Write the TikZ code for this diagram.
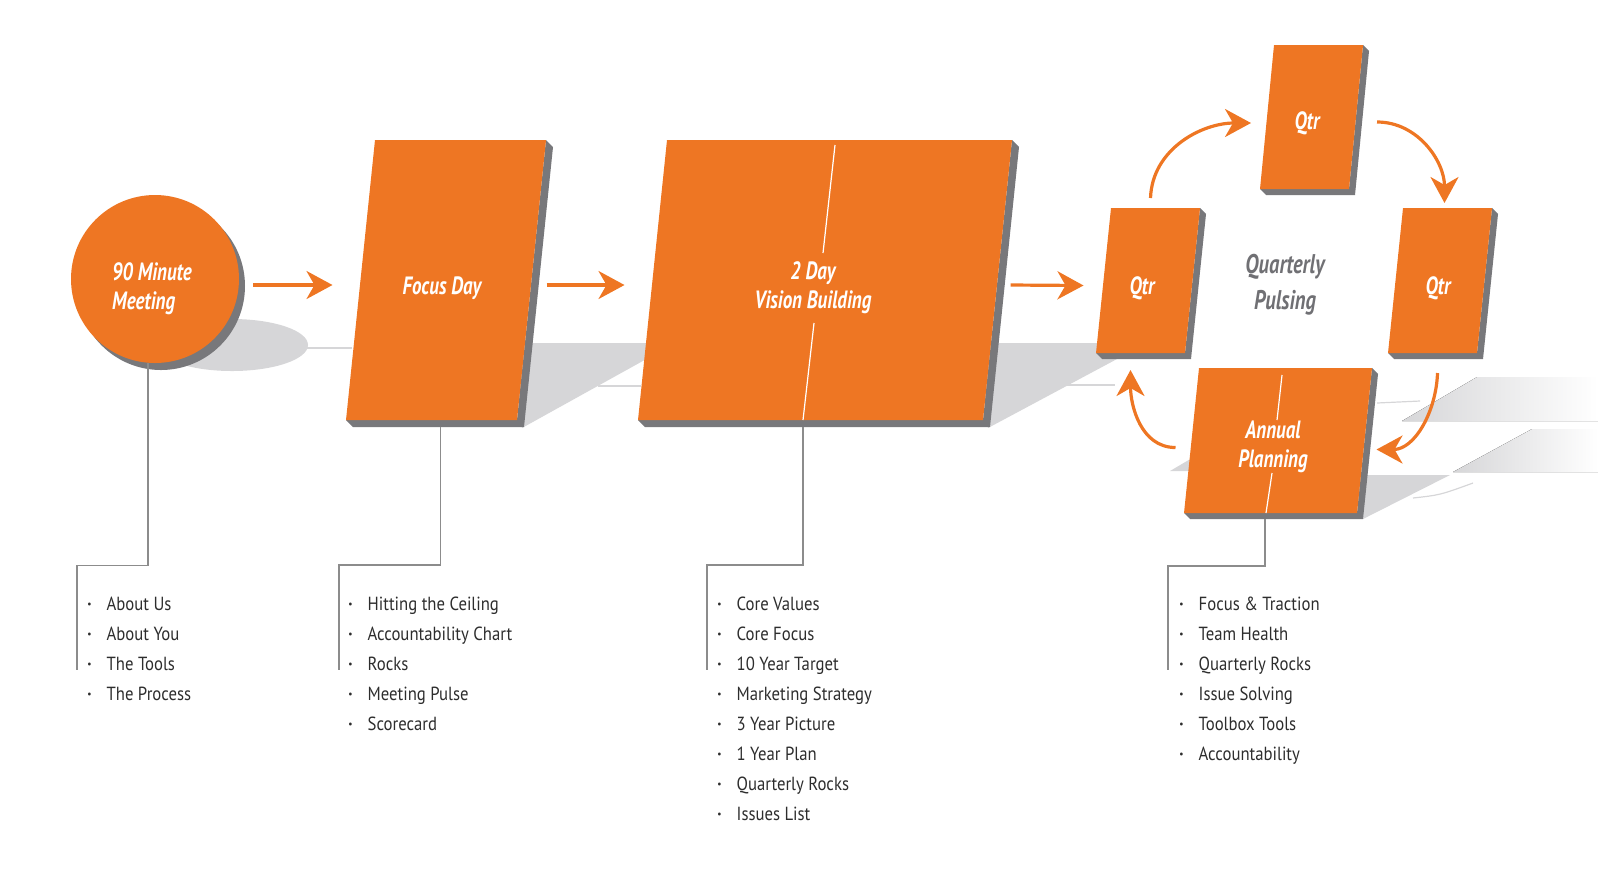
\documentclass[tikz,border=0pt]{standalone}
\usepackage{fontspec}
\newfontfamily\headfont[FakeStretch=0.76]{PT Sans}
\newfontfamily\listfont[FakeStretch=0.88]{PT Sans}
\usetikzlibrary{arrows.meta,calc,positioning}
\definecolor{eosorange}{RGB}{238,118,35}
\definecolor{sidegray}{RGB}{120,120,123}
\definecolor{floorgray}{RGB}{214,214,216}
\definecolor{leadgray}{RGB}{140,140,140}
\definecolor{itemgray}{RGB}{45,45,45}
\definecolor{pulsegray}{RGB}{112,112,116}
\tikzset{
    face/.style={
    fill=eosorange
    },
    side/.style={
    fill=sidegray
    },
    floor/.style={
    fill=floorgray
    },
    reflex/.style={
    draw=floorgray,line width=0.6pt
    },
    flow/.style={
    draw=eosorange,line width=1.6pt,-{Stealth[length=13pt,width=14pt,inset=4pt]}
    },
    lead/.style={
    draw=leadgray,line width=0.6pt
    },
    cut/.style={
    draw=white,line width=0.6pt
    },
    stage/.style={
    text=white,align=center,font=\headfont\bfseries\itshape\fontsize{12.5}{14.5}\selectfont
    },
    pulse/.style={
    text=pulsegray,align=center,font=\headfont\bfseries\itshape\fontsize{13.5}{18}\selectfont
    },
    items/.style={
    text=itemgray,align=left,anchor=north west,inner sep=0pt,font=\listfont\fontsize{9.5}{15}\selectfont
    },
}
% slab: name, bottom-left x, bottom y, width, height, lean, depth
\newcommand{\slab}[7]{%
  \fill[side] (#2+#4+#6,#3-#5) -- ++(#7,#7) -- (#2+#4+#7,#3+#7) -- (#2+#7,#3+#7) -- (#2,#3) -- (#2+#4,#3) -- cycle;
  \fill[face] (#2,#3) -- (#2+#4,#3) -- (#2+#4+#6,#3-#5) -- (#2+#6,#3-#5) -- cycle;
  \coordinate (#1-n) at (#2+#4/2+#6,#3-#5);
  \coordinate (#1-s) at (#2+#4/2,#3);
  \coordinate (#1-w) at (#2+#6/2,#3-#5/2);
  \coordinate (#1-e) at (#2+#4+#6/2+#7,#3-#5/2);
}
\newcommand{\itm}[1]{\textbf{\textperiodcentered}\hspace{7.5pt}#1}

\begin{document}
\begin{tikzpicture}[x=0.5pt,y=-0.5pt]
  \useasboundingbox (0,0) rectangle (1598,875);

  % floor shadows
  \fill[floor] (232,345) ellipse [x radius=76,y radius=26];
  \fill[floor] (515,343) -- (650,343) -- (650,357) -- (522,428) -- cycle;
  \fill[floor] (980,343) -- (1110,343) -- (1117,359) -- (988,428) -- cycle;
  \fill[floor] (1350,475) -- (1450,475) -- (1363,519) -- cycle;
  \fill[floor] (1170,471) -- (1192,458) -- (1192,471) -- cycle;
  \fill[left color=floorgray,right color=white] (1402,421) -- (1477,377) -- (1598,377) -- (1598,421) -- cycle;
  \fill[left color=floorgray,right color=white] (1453,472) -- (1532,429) -- (1598,429) -- (1598,472) -- cycle;
  \draw[reflex] (305,348) -- (352,348);
  \draw[reflex] (598,386) -- (641,386);
  \draw[reflex] (1065,385) -- (1115,385);
  \draw[reflex] (1377,403) -- (1420,401);
  \draw[reflex] (1413,498) .. controls (1440,495) .. (1473,483);

  % stages
  \fill[side] (161,286) circle [radius=84];
  \node[circle,fill=eosorange,minimum size=84pt,inner sep=0pt] (meet) at (155,279) {};
  \slab{focus}{346}{420}{171}{280}{29}{7}
  \slab{vision}{638}{420}{345}{280}{29}{7}
  \slab{qa}{1096}{353}{89}{145}{15}{6}
  \slab{qb}{1260}{189}{89}{144}{14}{6}
  \slab{qc}{1388}{353}{89}{145}{15}{6}
  \slab{ann}{1184}{513}{173}{145}{15}{6}

  \draw[cut] (835,145) -- (823,253) (814,323) -- (803,420);
  \draw[cut] (1282,375) -- (1277,420) (1272,473) -- (1266,513);

  \node[stage,align=left] (meet-txt) at (152,289) {90 Minute\\Meeting};
  \node[stage] (focus) at (442,288) {Focus Day};
  \node[stage] (vision) at (813,288) {2 Day\\Vision Building};
  \node[stage] (qa-txt) at (1142,288) {Qtr};
  \node[stage] (qb-txt) at (1307,123) {Qtr};
  \node[stage] (qc-txt) at (1438,288) {Qtr};
  \node[stage] (ann-txt) at (1273,447) {Annual\\Planning};
  \node[pulse] (pulse) at (1285,285) {Quarterly\\Pulsing};

  % flow
  \draw[flow] ($(meet.east)+(14,6)$) -- ($(focus-w)+(-28,5)$);
  \draw[flow] ($(focus-e)+(8,5)$) -- ($(vision-w)+(-28,5)$);
  \draw[flow] ($(vision-e)+(6,5)$) -- ($(qa-w)+(-20,5)$);
  \draw[flow] ($(qa-n)+(-5,-10)$) to[out=88,in=180] ($(qb-w)+(-16,6)$);
  \draw[flow] ($(qb-e)+(15,5)$) to[out=0,in=90] ($(qc-n)+(-3,-5)$);
  \draw[flow] ($(qc-s)+(5,20)$) to[out=-92,in=0] ($(ann-e)+(6,9)$);
  \draw[flow] ($(ann-w)+(-16,7)$) to[out=180,in=-90] ($(qa-s)+(-10,17)$);

  % lists
  \node[items] (l-meet) at (87,597) {\itm{About Us}\\\itm{About You}\\\itm{The Tools}\\\itm{The Process}};
  \node[items] (l-focus) at (348,597) {\itm{Hitting the Ceiling}\\\itm{Accountability Chart}\\\itm{Rocks}\\\itm{Meeting Pulse}\\\itm{Scorecard}};
  \node[items] (l-vision) at (717,597) {\itm{Core Values}\\\itm{Core Focus}\\\itm{10 Year Target}\\\itm{Marketing Strategy}\\\itm{3 Year Picture}\\\itm{1 Year Plan}\\\itm{Quarterly Rocks}\\\itm{Issues List}};
  \node[items] (l-ann) at (1179,597) {\itm{Focus \& Traction}\\\itm{Team Health}\\\itm{Quarterly Rocks}\\\itm{Issue Solving}\\\itm{Toolbox Tools}\\\itm{Accountability}};

  \coordinate (meet-end) at (77,670);
  \coordinate (focus-end) at (339,670);
  \coordinate (vision-end) at (707,670);
  \coordinate (ann-end) at (1168,670);
  \draw[lead] ($(meet.south)+(-7,0)$) -- ++(0,202) -| (meet-end);
  \draw[lead] ($(focus-s)+(9,7)$) -- ++(0,138) -| (focus-end);
  \draw[lead] ($(vision-s)+(-7.5,7)$) -- ++(0,138) -| (vision-end);
  \draw[lead] ($(ann-s)+(-5.5,6)$) -- ++(0,47) -| (ann-end);
\end{tikzpicture}
\end{document}
